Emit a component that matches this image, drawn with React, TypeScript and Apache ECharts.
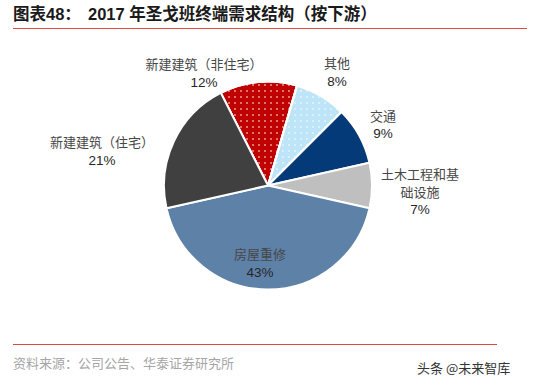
import React, { useEffect, useRef } from "react";
import * as echarts from "echarts";

const categories = ["新建建筑（非住宅）", "其他", "交通", "土木工程和基础设施", "房屋重修", "新建建筑（住宅）"];
const shares = [12, 8, 9, 7, 43, 21];
const labelNames = ["新建建筑（非住宅）", "其他", "交通", "土木工程和基\n础设施", "房屋重修", "新建建筑（住宅）"];

const colors = ["#C00000", "#BEE4F8", "#053A78", "#BFBFBF", "#5E81A8", "#404040"];
const dotted = [true, true, false, false, false, false];
// label placement (radial distance from centre, angular shift in degrees)
const labelDist = [129, 132.4, 130.2, 152.1, 78.4, 169.4];
const labelTurn = [24.3, -0.8, -0.9, -2.4, -5.9, 13.6];

const CX = 268;
const CY = 185.5;
const R = 104;
const START = 117;

const TITLE_A = "图表48：";
const TITLE_B = "2017 年圣戈班终端需求结构（按下游）";
const SOURCE = "资料来源：公司公告、华泰证券研究所";
const WATERMARK = "头条 @未来智库";

export default function App() {
  const ref = useRef<HTMLDivElement>(null);
  useEffect(() => {
    if (!ref.current) return;
    const chart = echarts.init(ref.current, null, { renderer: "svg" });
    const total = shares.reduce((a, b) => a + b, 0);
    const mids: number[] = [];
    let cum = 0;
    shares.forEach((s) => {
      mids.push(START - (360 * (cum + s / 2)) / total);
      cum += s;
    });
    const cjk = '"Noto Sans CJK SC", sans-serif';
    const latin = '"Liberation Sans", Arial, "Noto Sans CJK SC", sans-serif';
    chart.setOption({
      animation: false,
      backgroundColor: "#ffffff",
      graphic: [
        {
          type: "text",
          left: 13,
          top: 6,
          style: { text: TITLE_A, fontFamily: latin, fontSize: 16.5, fontWeight: "bold", fill: "#1a1a1a" },
        },
        {
          type: "text",
          left: 88,
          top: 6,
          style: { text: TITLE_B, fontFamily: latin, fontSize: 16.5, fontWeight: "bold", fill: "#1a1a1a" },
        },
        {
          type: "line",
          shape: { x1: 13, y1: 28.5, x2: 527, y2: 28.5 },
          style: { stroke: "#E04A3C", lineWidth: 1.2 },
        },
        {
          type: "line",
          shape: { x1: 13, y1: 344.5, x2: 497, y2: 344.5 },
          style: { stroke: "#E04A3C", lineWidth: 1.2 },
        },
        {
          type: "text",
          left: 13,
          top: 356,
          style: { text: SOURCE, fontFamily: cjk, fontSize: 13, fill: "#A6A6A6" },
        },
        {
          type: "text",
          left: 417,
          top: 361,
          style: { text: WATERMARK, fontFamily: cjk, fontSize: 13, fill: "#333333" },
        },
      ],
      series: [
        {
          type: "pie",
          center: [CX, CY],
          radius: [0, R],
          startAngle: START,
          clockwise: true,
          avoidLabelOverlap: false,
          itemStyle: { borderColor: "#ffffff", borderWidth: 2 },
          label: {
            show: true,
            position: "outside",
            formatter: (p: any) => `{n|${labelNames[p.dataIndex]}}\n{v|${p.value}%}`,
            rich: {
              n: { fontFamily: cjk, fontSize: 13, color: "#474747", lineHeight: 18, align: "center" },
              v: { fontFamily: latin, fontSize: 13.5, color: "#262626", lineHeight: 19, align: "center" },
            },
          },
          labelLine: { show: false },
          labelLayout: (params: any) => {
            const i = params.dataIndex;
            const a = ((mids[i] + labelTurn[i]) * Math.PI) / 180;
            return {
              x: CX + labelDist[i] * Math.cos(a),
              y: CY - labelDist[i] * Math.sin(a),
              align: "center",
              verticalAlign: "middle",
            };
          },
          data: categories.map((name, i) => ({
            name,
            value: shares[i],
            itemStyle: {
              color: colors[i],
              decal: dotted[i]
                ? {
                    symbol: "rect",
                    symbolSize: 0.8,
                    color: "rgba(255,255,255,0.75)",
                    dashArrayX: [2, 4],
                    dashArrayY: [2, 4],
                    rotation: 0,
                  }
                : undefined,
            },
          })),
        },
      ],
    });
    return () => chart.dispose();
  }, []);
  return (
    <div
      ref={ref}
      style={{ position: "absolute", left: 0, top: 0, width: 554, height: 387 }}
    />
  );
}
